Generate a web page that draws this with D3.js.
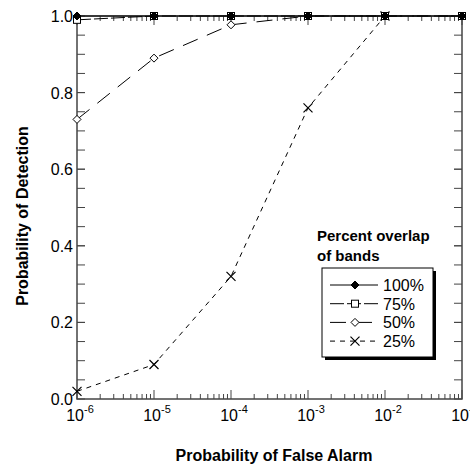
<!DOCTYPE html>
<html>
<head>
<meta charset="utf-8">
<script src="https://cdn.jsdelivr.net/npm/d3@7"></script>
<style>
  body { margin: 0; background: #fff; }
  text { font-family: "Liberation Sans", Arial, sans-serif; }
</style>
</head>
<body>
<svg id="chart"></svg>
<script>
// data
const falseAlarm = [1e-6, 1e-5, 1e-4, 1e-3, 1e-2, 1e-1];
const seriesNames = ["100%", "75%", "50%", "25%"];
const pd100 = [1.0, 1.0, 1.0, 1.0, 1.0, 1.0];
const pd75 = [0.99, 1.0, 1.0, 1.0, 1.0, 1.0];
const pd50 = [0.73, 0.89, 0.977, 1.0, 1.0, 1.0];
const pd25 = [0.02, 0.09, 0.32, 0.76, 1.0];
const yTicks = [0, 0.2, 0.4, 0.6, 0.8, 1.0];

const width = 470, height = 466;
const margin = {left: 77, right: 8, top: 16, bottom: 67};

const svg = d3.select("#chart").attr("width", width).attr("height", height);

const x = d3.scaleLog().domain([1e-6, 1e-1]).range([margin.left, width - margin.right]);
const y = d3.scaleLinear().domain([0, 1]).range([height - margin.bottom, margin.top]);

const axisCol = "#444";

// minor tick values
const minorX = [];
for (let e = -6; e < -1; e++) {
    for (let m = 2; m <= 9; m++) minorX.push(m * Math.pow(10, e));
}
const minorY = d3.range(0.05, 1, 0.05);

// frame
svg.append("rect")
    .attr("x", x.range()[0]).attr("y", y.range()[1])
    .attr("width", x.range()[1] - x.range()[0])
    .attr("height", y.range()[0] - y.range()[1])
    .attr("fill", "none").attr("stroke", axisCol).attr("stroke-width", 1.5);

const ticks = svg.append("g").attr("stroke", axisCol).attr("stroke-width", 1);
// bottom + top ticks
falseAlarm.forEach(v => {
    ticks.append("line").attr("x1", x(v)).attr("x2", x(v)).attr("y1", y(0)).attr("y2", y(0) - 9);
    ticks.append("line").attr("x1", x(v)).attr("x2", x(v)).attr("y1", y(1)).attr("y2", y(1) + 9);
});
minorX.forEach(v => {
    ticks.append("line").attr("x1", x(v)).attr("x2", x(v)).attr("y1", y(0)).attr("y2", y(0) - 5);
    ticks.append("line").attr("x1", x(v)).attr("x2", x(v)).attr("y1", y(1)).attr("y2", y(1) + 5);
});
// left + right ticks
yTicks.concat(minorY).forEach(v => {
    ticks.append("line").attr("x1", x.range()[0]).attr("x2", x.range()[0] + 8).attr("y1", y(v)).attr("y2", y(v));
    ticks.append("line").attr("x1", x.range()[1]).attr("x2", x.range()[1] - 8).attr("y1", y(v)).attr("y2", y(v));
});

// y tick labels
svg.append("g").selectAll("text").data(yTicks).join("text")
    .attr("x", x.range()[0] - 4).attr("y", d => y(d) + 6)
    .attr("text-anchor", "end").attr("font-size", 16)
    .text(d => d.toFixed(1));

// x tick labels 10^n
const xl = svg.append("g").selectAll("text").data(falseAlarm).join("text")
    .attr("x", d => x(d) + 3).attr("y", y(0) + 22)
    .attr("text-anchor", "middle").attr("font-size", 16);
xl.append("tspan").text("10");
xl.append("tspan").attr("font-size", 11).attr("dy", -8).text(d => Math.round(Math.log10(d)));

// axis titles
svg.append("text")
    .attr("x", 274).attr("y", 461)
    .attr("text-anchor", "middle").attr("font-size", 16).attr("font-weight", "bold")
    .text("Probability of False Alarm");
svg.append("text")
    .attr("transform", `translate(28,216) rotate(-90)`)
    .attr("text-anchor", "middle").attr("font-size", 16).attr("font-weight", "bold")
    .text("Probability of Detection");

const styles = [
    {vals: pd100, dash: null, marker: "diamondFill"},
    {vals: pd75, dash: "14,3", marker: "square"},
    {vals: pd50, dash: "16,10", marker: "diamond"},
    {vals: pd25, dash: "5,5", marker: "cross"}
];

const line = d3.line().x(d => x(d[0])).y(d => y(d[1]));

function drawMarker(g, type, cx, cy) {
    if (type === "diamondFill" || type === "diamond") {
        g.append("path")
            .attr("d", `M${cx},${cy - 4}L${cx + 4},${cy}L${cx},${cy + 4}L${cx - 4},${cy}Z`)
            .attr("fill", type === "diamondFill" ? "#000" : "#fff")
            .attr("stroke", "#000").attr("stroke-width", 1);
    } else if (type === "square") {
        g.append("rect").attr("x", cx - 3.5).attr("y", cy - 3.5).attr("width", 7).attr("height", 7)
            .attr("fill", "#fff").attr("stroke", "#000").attr("stroke-width", 1);
    } else if (type === "cross") {
        g.append("path")
            .attr("d", `M${cx - 4.5},${cy - 4.5}L${cx + 4.5},${cy + 4.5}M${cx - 4.5},${cy + 4.5}L${cx + 4.5},${cy - 4.5}`)
            .attr("stroke", "#000").attr("stroke-width", 1.2);
    }
}

// draw series, lowest first so 100% stays on top
styles.slice().reverse().forEach(s => {
    const pts = s.vals.map((v, i) => [falseAlarm[i], v]);
    svg.append("path").datum(pts)
        .attr("d", line).attr("fill", "none").attr("stroke", "#000").attr("stroke-width", 1)
        .attr("stroke-dasharray", s.dash);
    const g = svg.append("g");
    pts.forEach(p => drawMarker(g, s.marker, x(p[0]), y(p[1])));
});

// legend
svg.append("text").attr("x", 317).attr("y", 241)
    .attr("font-size", 15).attr("font-weight", "bold").text("Percent overlap");
svg.append("text").attr("x", 317).attr("y", 261)
    .attr("font-size", 15).attr("font-weight", "bold").text("of bands");

const lg = {x: 322, y: 268, w: 111, h: 89};
svg.append("rect").attr("x", lg.x + 3).attr("y", lg.y + 3).attr("width", lg.w).attr("height", lg.h).attr("fill", "#000");
svg.append("rect").attr("x", lg.x).attr("y", lg.y).attr("width", lg.w).attr("height", lg.h)
    .attr("fill", "#fff").attr("stroke", "#000").attr("stroke-width", 1);

styles.forEach((s, i) => {
    const cy = 285 + i * 18.7;
    svg.append("line").attr("x1", 330).attr("x2", 378).attr("y1", cy).attr("y2", cy)
        .attr("stroke", "#000").attr("stroke-width", 1).attr("stroke-dasharray", s.dash);
    drawMarker(svg.append("g"), s.marker, 355, cy);
    svg.append("text").attr("x", 383).attr("y", cy + 6).attr("font-size", 16).text(seriesNames[i]);
});
</script>
</body>
</html>
